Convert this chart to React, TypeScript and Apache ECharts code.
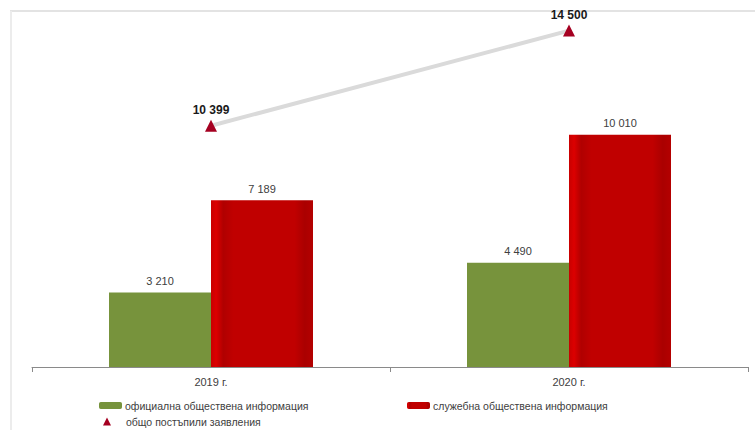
import React, { useEffect, useRef } from "react";
import * as echarts from "echarts";

const categories = ["2019 г.", "2020 г."];
const officialInfo = [3210, 4490];
const serviceInfo = [7189, 10010];
const totalRequests = [10399, 14500];
const seriesNames = [
  "официална обществена информация",
  "служебна обществена информация",
  "общо постъпили заявления",
];

const fmt = (v: number) => String(v).replace(/\B(?=(\d{3})+(?!\d))/g, " ");
const FONT = "Liberation Sans";

export default function App() {
  const ref = useRef<HTMLDivElement>(null);
  useEffect(() => {
    if (!ref.current) return;
    const chart = echarts.init(ref.current, null, { renderer: "svg" });
    const redGrad = new echarts.graphic.LinearGradient(0, 0, 1, 0, [
      { offset: 0, color: "#c80000" },
      { offset: 0.05, color: "#dc0000" },
      { offset: 0.12, color: "#b00000" },
      { offset: 0.22, color: "#c00000" },
      { offset: 0.82, color: "#c00000" },
      { offset: 0.92, color: "#aa0000" },
      { offset: 1, color: "#b40000" },
    ]);
    chart.setOption({
      animation: false,
      backgroundColor: "#ffffff",
      textStyle: { fontFamily: FONT },
      grid: { left: 32, right: 7, top: 19, bottom: 63, containLabel: false },
      graphic: [
        {
          type: "line",
          shape: { x1: 10, y1: 11, x2: 755, y2: 11 },
          style: { stroke: "#e3e3e3", lineWidth: 2 },
          silent: true,
        },
        {
          type: "line",
          shape: { x1: 11, y1: 11, x2: 11, y2: 430 },
          style: { stroke: "#ececec", lineWidth: 2 },
          silent: true,
        },
      ],
      legend: [
        {
          data: [seriesNames[0]],
          left: 97,
          top: 398,
          itemWidth: 23,
          itemHeight: 7,
          itemGap: 0,
          padding: 2,
          textStyle: { fontSize: 10.5, color: "#404040", padding: [0, 0, 0, -2] },
        },
        {
          data: [seriesNames[1]],
          left: 405,
          top: 398,
          itemWidth: 23,
          itemHeight: 7,
          itemGap: 0,
          padding: 2,
          textStyle: { fontSize: 10.5, color: "#404040", padding: [0, 0, 0, -2] },
        },
        {
          data: [{ name: seriesNames[2], icon: "triangle" }],
          left: 101,
          top: 414,
          itemWidth: 8,
          itemHeight: 8,
          padding: 2,
          textStyle: { fontSize: 10.5, color: "#404040", padding: [0, 0, 0, 10] },
        },
      ],
      xAxis: {
        type: "category",
        data: categories,
        axisLine: { lineStyle: { color: "#8a8a8a", width: 1 } },
        axisTick: { show: true, alignWithLabel: false, length: 5, lineStyle: { color: "#8a8a8a" } },
        axisLabel: { fontSize: 11, color: "#404040", margin: 9 },
      },
      yAxis: {
        type: "value",
        min: 0,
        max: 15000,
        show: false,
        splitLine: { show: false },
      },
      series: [
        {
          name: seriesNames[0],
          type: "bar",
          data: officialInfo,
          barWidth: 102,
          barGap: "0%",
          itemStyle: { color: "#77933c" },
          label: {
            show: true,
            position: "top",
            distance: 6,
            fontSize: 11,
            color: "#404040",
            formatter: (p: any) => fmt(p.value),
          },
        },
        {
          name: seriesNames[1],
          type: "bar",
          data: serviceInfo,
          barWidth: 102,
          barGap: "0%",
          itemStyle: { color: redGrad },
          label: {
            show: true,
            position: "top",
            distance: 6,
            fontSize: 11,
            color: "#404040",
            formatter: (p: any) => fmt(p.value),
          },
        },
        {
          name: seriesNames[2],
          type: "line",
          data: totalRequests,
          symbol: "triangle",
          symbolSize: 12,
          z: 5,
          lineStyle: { color: "#dadada", width: 4 },
          itemStyle: { color: "#a50021" },
          label: {
            show: true,
            position: "top",
            distance: 4,
            fontSize: 12,
            fontWeight: "bold",
            color: "#1a1a1a",
            formatter: (p: any) => fmt(p.value),
          },
        },
      ],
    });
    return () => chart.dispose();
  }, []);
  return <div ref={ref} style={{ width: 755, height: 430, position: "absolute", left: 0, top: 0 }} />;
}
